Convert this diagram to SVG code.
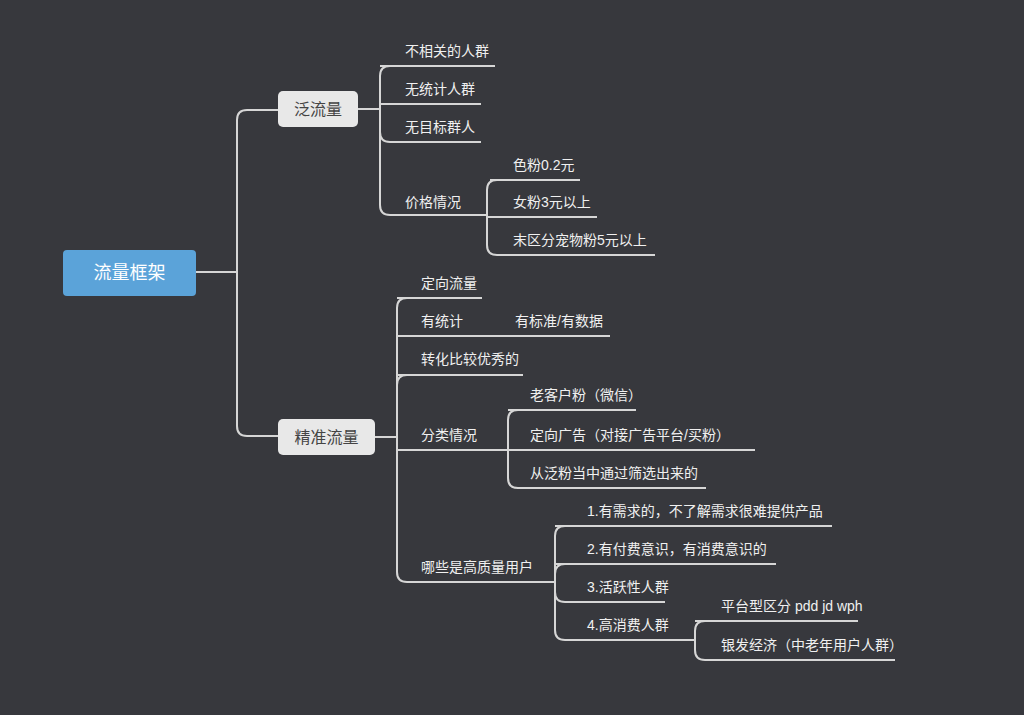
<svg xmlns="http://www.w3.org/2000/svg" width="1024" height="715" viewBox="0 0 1024 715">
<style>
.l{fill:none;stroke:#d6d6d6;stroke-width:2}
.t{font-family:"Liberation Sans","Noto Sans CJK SC",sans-serif;font-size:14px;fill:#f0f0f0}
.b{font-family:"Liberation Sans","Noto Sans CJK SC",sans-serif;font-size:16px;fill:#444;text-anchor:middle}
</style>
<rect width="1024" height="715" fill="#37383d"/>
<g id="connectors">
<path class="l" d="M196 272H237M237 120Q237 110 247 110H278M237 120V426Q237 436 247 436H278"/>
<path class="l" d="M358 109H380M390 66Q380 66 380 76V205Q380 215 390 215H487M380 104H481M380 132Q380 142 390 142H481"/>
<path class="l" d="M380 66H495M497 180Q487 180 487 190V245Q487 255 497 255H655M487 217H597M490 180H580"/>
<path class="l" d="M375 437H397M407 298Q397 298 397 308V572Q397 582 407 582H555M397 298H482M397 336H610M407 375Q397 375 397 385M397 375H523M397 450H508M518 410Q508 410 508 420V478Q508 488 518 488H706M508 410H636M508 450H755"/>
<path class="l" d="M565 526Q555 526 555 536V630Q555 640 565 640H695M555 526H832M555 564H776M565 564Q555 564 555 574V592Q555 602 565 602H665M705 621Q695 621 695 631V650Q695 660 705 660H895M695 621H858"/>
</g>
<g id="root"><rect x="63" y="250" width="133" height="46" rx="4" fill="#5ba3d9"/><text x="129.5" y="279" class="b" style="fill:#fff;font-size:18px">流量框架</text></g>
<g id="n1"><rect x="278" y="91" width="80" height="36" rx="5" fill="#e8e8e8"/><text x="318" y="115" class="b">泛流量</text></g>
<g id="n2"><rect x="278" y="419" width="97" height="36" rx="5" fill="#e8e8e8"/><text x="326.5" y="443" class="b">精准流量</text></g>
<g id="leaves">
<text class="t" x="405" y="56">不相关的人群</text>
<text class="t" x="405" y="94">无统计人群</text>
<text class="t" x="405" y="132">无目标群人</text>
<text class="t" x="405" y="207">价格情况</text>
<text class="t" x="513" y="170">色粉0.2元</text>
<text class="t" x="513" y="207">女粉3元以上</text>
<text class="t" x="513" y="245">末区分宠物粉5元以上</text>
<text class="t" x="421" y="288">定向流量</text>
<text class="t" x="421" y="326">有统计</text>
<text class="t" x="515" y="326">有标准/有数据</text>
<text class="t" x="421" y="364">转化比较优秀的</text>
<text class="t" x="421" y="440">分类情况</text>
<text class="t" x="530" y="400">老客户粉（微信）</text>
<text class="t" x="530" y="440">定向广告（对接广告平台/买粉）</text>
<text class="t" x="530" y="478">从泛粉当中通过筛选出来的</text>
<text class="t" x="421" y="572">哪些是高质量用户</text>
<text class="t" x="587" y="516">1.有需求的，不了解需求很难提供产品</text>
<text class="t" x="587" y="554">2.有付费意识，有消费意识的</text>
<text class="t" x="587" y="592">3.活跃性人群</text>
<text class="t" x="587" y="630">4.高消费人群</text>
<text class="t" x="721" y="611">平台型区分 pdd jd wph</text>
<text class="t" x="721" y="650">银发经济（中老年用户人群）</text>
</g>
</svg>
